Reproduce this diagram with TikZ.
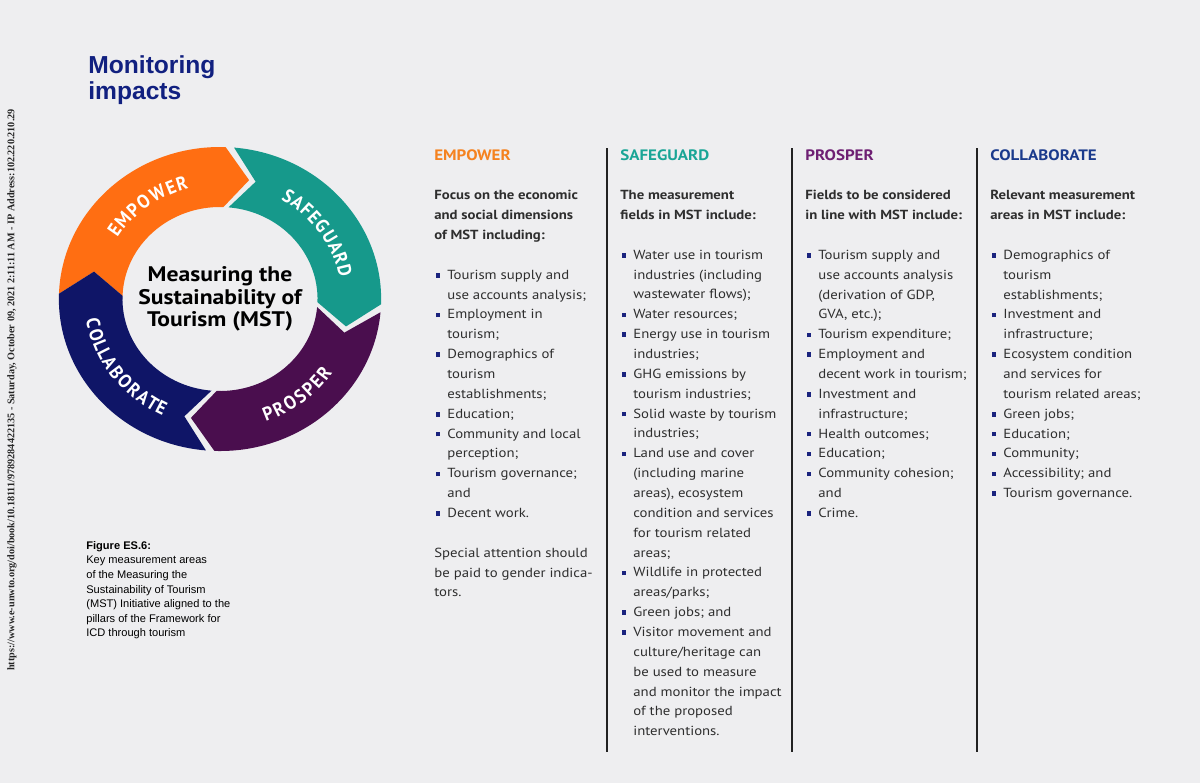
\documentclass[tikz,border=0pt]{standalone}
\usepackage{fontspec}
\setmainfont[FakeStretch=1.12]{PT Sans}
\newfontfamily\ringfont[FakeStretch=0.93]{PT Sans}
\newfontfamily\titlefont{Liberation Sans}
\newfontfamily\stampfont{Liberation Serif}
\usetikzlibrary{positioning}

\definecolor{bggray}{HTML}{EEEEF0}
\definecolor{titlenavy}{HTML}{112080}
\definecolor{ringorange}{HTML}{FF6E12}
\definecolor{ringteal}{HTML}{16998B}
\definecolor{ringpurple}{HTML}{4A0E4E}
\definecolor{ringnavy}{HTML}{0F1567}
\definecolor{empcol}{HTML}{F5821F}
\definecolor{safcol}{HTML}{1AA596}
\definecolor{procol}{HTML}{6E1F73}
\definecolor{colcol}{HTML}{1A3A8C}
\definecolor{bodytext}{HTML}{2E2E2E}
\definecolor{bulnavy}{HTML}{1A237E}
\definecolor{sepgray}{HTML}{222222}

% anillo
\newcommand\ringout{152}
\newcommand\ringin{92}
\newcommand\ringmid{122}
\newcommand\ringtip{11}
\newcommand\ringseg[3]{%
  \fill[#1] (#2:\ringout) arc[start angle=#2, end angle=#3, radius=\ringout]
    -- ({#3-\ringtip}:\ringmid) -- (#3:\ringin)
    arc[start angle=#3, end angle=#2, radius=\ringin]
    -- ({#2-\ringtip}:\ringmid) -- cycle;}
\newcommand\ringword[4]{%
  \foreach \ch/\ang [count=\k] in {#2}
    \node[ringtxt, rotate={\ang+#4}] (#1\k) at (\ang:#3) {\ch};}

% listas
\newcommand\bul{\makebox[2.6mm][l]{\hspace*{0.3mm}\textcolor{bulnavy}{\rule[0.25ex]{0.9mm}{0.9mm}}}}
\newcommand\hang{\hspace*{2.6mm}}

\begin{document}
\begin{tikzpicture}[x=0.2mm, y=-0.2mm,
  colhead/.style={anchor=west, inner sep=0, font=\bfseries\fontsize{8.6}{10}\selectfont},
  colbody/.style={anchor=north west, inner sep=0, align=left, text=bodytext,
    font=\fontsize{7.5}{11.3}\selectfont},
  ringtxt/.style={text=white, inner sep=0, font=\ringfont\bfseries\fontsize{10.8}{11}\selectfont},
  sepline/.style={draw=sepgray, line width=1.1pt}]
% Fondo
\fill[bggray] (0,0) rectangle (1200,783);

% Titulo
\node[anchor=north west, inner sep=0, align=left, text=titlenavy,
  font=\titlefont\bfseries\fontsize{14}{15.1}\selectfont] (title) at (88,55) {Monitoring\\impacts};

% Sello vertical
\node[rotate=90, inner sep=0, text=black!85, font=\stampfont\bfseries\fontsize{5.8}{6}\selectfont] (stamp) at (12,390)
  {https://www.e-unwto.org/doi/book/10.18111/9789284422135 - Saturday, October 09, 2021 2:11:11 AM - IP Address:102.220.210.29};

% Ciclo MST
\begin{scope}[shift={(220,299)}, yscale=-1, xscale=1.06]
  \ringseg{ringorange}{178}{88}
  \ringseg{ringteal}{85}{-2}
  \ringseg{ringpurple}{-5}{-92}
  \ringseg{ringnavy}{-95}{-182}
  \node[align=center, inner sep=0, text=black, font=\bfseries\fontsize{12}{12.8}\selectfont] (mst) at (0,0)
    {Measuring the\\Sustainability of\\Tourism (MST)};
  \ringword{emp}{E/145.4, M/139.1, P/132.6, O/126.6, W/119.2, E/112.6, R/107.4}{121}{-90}
  \ringword{saf}{S/57.8, A/52.6, F/47.4, E/42.6, G/37.2, U/31.1, A/25.3, R/19.7, D/13.8}{121}{-90}
  \ringword{pro}{P/-68.4, R/-63.2, O/-57.5, S/-52.0, P/-47.1, E/-42.2, R/-37.2}{123}{90}
  \ringword{col}{C/191.5, O/197.2, L/202.4, L/206.7, A/211.5, B/216.9, O/222.7, R/228.4, A/233.7, T/238.6, E/243.1}{122}{90}
\end{scope}

% Leyenda
\node[anchor=north west, inner sep=0, align=left, text=black,
  font=\titlefont\fontsize{6.3}{8.3}\selectfont] (caption) at (86,541)
  {\textbf{Figure ES.6:}\\Key measurement areas\\of the Measuring the\\Sustainability of Tourism\\(MST) Initiative aligned to the\\pillars of the Framework for\\ICD through tourism};

% Separadores
\foreach \sx in {607,792,977}
  \draw[sepline] (\sx,148) -- (\sx,752);

% EMPOWER
\node[colhead, text=empcol] (emphead) at (434,155) {EMPOWER};
\node[colbody, below right=7mm and 0mm of emphead.west] (empbody)
  {\textbf{Focus on the economic}\\
   \textbf{and social dimensions}\\
   \textbf{of MST including:}\\[11.3pt]
   \bul Tourism supply and\\
   \hang use accounts analysis;\\
   \bul Employment in\\
   \hang tourism;\\
   \bul Demographics of\\
   \hang tourism\\
   \hang establishments;\\
   \bul Education;\\
   \bul Community and local\\
   \hang perception;\\
   \bul Tourism governance;\\
   \hang and\\
   \bul Decent work.\\[11.3pt]
   Special attention should\\
   be paid to gender indica-\\
   tors.};

% SAFEGUARD
\node[colhead, text=safcol] (safhead) at (620,155) {SAFEGUARD};
\node[colbody, below right=7mm and 0mm of safhead.west] (safbody)
  {\textbf{The measurement}\\
   \textbf{fields in MST include:}\\[11.3pt]
   \bul Water use in tourism\\
   \hang industries (including\\
   \hang wastewater flows);\\
   \bul Water resources;\\
   \bul Energy use in tourism\\
   \hang industries;\\
   \bul GHG emissions by\\
   \hang tourism industries;\\
   \bul Solid waste by tourism\\
   \hang industries;\\
   \bul Land use and cover\\
   \hang (including marine\\
   \hang areas), ecosystem\\
   \hang condition and services\\
   \hang for tourism related\\
   \hang areas;\\
   \bul Wildlife in protected\\
   \hang areas/parks;\\
   \bul Green jobs; and\\
   \bul Visitor movement and\\
   \hang culture/heritage can\\
   \hang be used to measure\\
   \hang and monitor the impact\\
   \hang of the proposed\\
   \hang interventions.};

% PROSPER
\node[colhead, text=procol] (prohead) at (805,155) {PROSPER};
\node[colbody, below right=7mm and 0mm of prohead.west] (probody)
  {\textbf{Fields to be considered}\\
   \textbf{in line with MST include:}\\[11.3pt]
   \bul Tourism supply and\\
   \hang use accounts analysis\\
   \hang (derivation of GDP,\\
   \hang GVA, etc.);\\
   \bul Tourism expenditure;\\
   \bul Employment and\\
   \hang decent work in tourism;\\
   \bul Investment and\\
   \hang infrastructure;\\
   \bul Health outcomes;\\
   \bul Education;\\
   \bul Community cohesion;\\
   \hang and\\
   \bul Crime.};

% COLLABORATE
\node[colhead, text=colcol] (colhead) at (990,155) {COLLABORATE};
\node[colbody, below right=7mm and 0mm of colhead.west] (colbody)
  {\textbf{Relevant measurement}\\
   \textbf{areas in MST include:}\\[11.3pt]
   \bul Demographics of\\
   \hang tourism\\
   \hang establishments;\\
   \bul Investment and\\
   \hang infrastructure;\\
   \bul Ecosystem condition\\
   \hang and services for\\
   \hang tourism related areas;\\
   \bul Green jobs;\\
   \bul Education;\\
   \bul Community;\\
   \bul Accessibility; and\\
   \bul Tourism governance.};
\end{tikzpicture}
\end{document}
